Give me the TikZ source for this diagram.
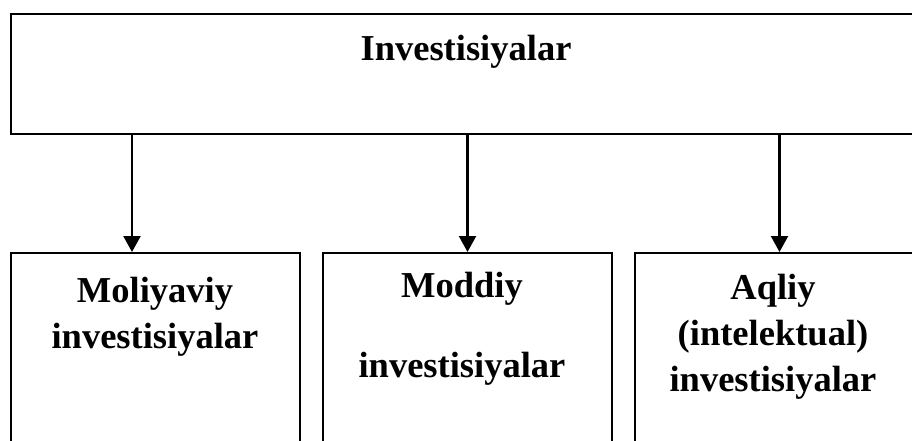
\documentclass[tikz,border=0pt]{standalone}
\usepackage{fontspec}
\setmainfont{Liberation Serif}
\usetikzlibrary{arrows.meta}

\begin{document}
\begin{tikzpicture}[x=1pt,y=-1pt,>={Triangle[width=17pt,length=16pt]},
  box/.style={draw, rectangle, inner sep=0pt, line width=2pt},
  lbl/.style={anchor=base, align=center, inner sep=0pt,
    font=\fontsize{36.5}{46}\selectfont\bfseries},
  node distance=312pt]
  \useasboundingbox (0,0) rectangle (912,441);
  \clip (0,0) rectangle (912,441);

  \node[box, line width=2.4pt, minimum width=910pt, minimum height=120pt] (inv) at (466,74) {};
  \node[lbl] (invtxt) at (466,61) {Investisiyalar};

  \node[box, minimum width=289pt, minimum height=220pt] (fin) at (155.5,363) {};
  \node[box, right of=fin, minimum width=289pt, minimum height=220pt] (mat) {};
  \node[box, right of=mat, minimum width=289pt, minimum height=220pt] (int) {};

  \node[lbl] (fintxt) at (155,348) {Moliyaviy\\investisiyalar};
  \node[lbl] (mattxt) at (462,377) {Moddiy\\[34pt]investisiyalar};
  \node[lbl] (inttxt) at (773,391) {Aqliy\\(intelektual)\\investisiyalar};

  \draw[->, line width=2.2pt] ([xshift=-23.5pt]fin.north |- inv.south) -- ([xshift=-23.5pt]fin.north);
  \draw[->, line width=2.2pt] (mat.north |- inv.south) -- (mat.north);
  \draw[->, line width=2.2pt] (int.north |- inv.south) -- (int.north);
\end{tikzpicture}
\end{document}
